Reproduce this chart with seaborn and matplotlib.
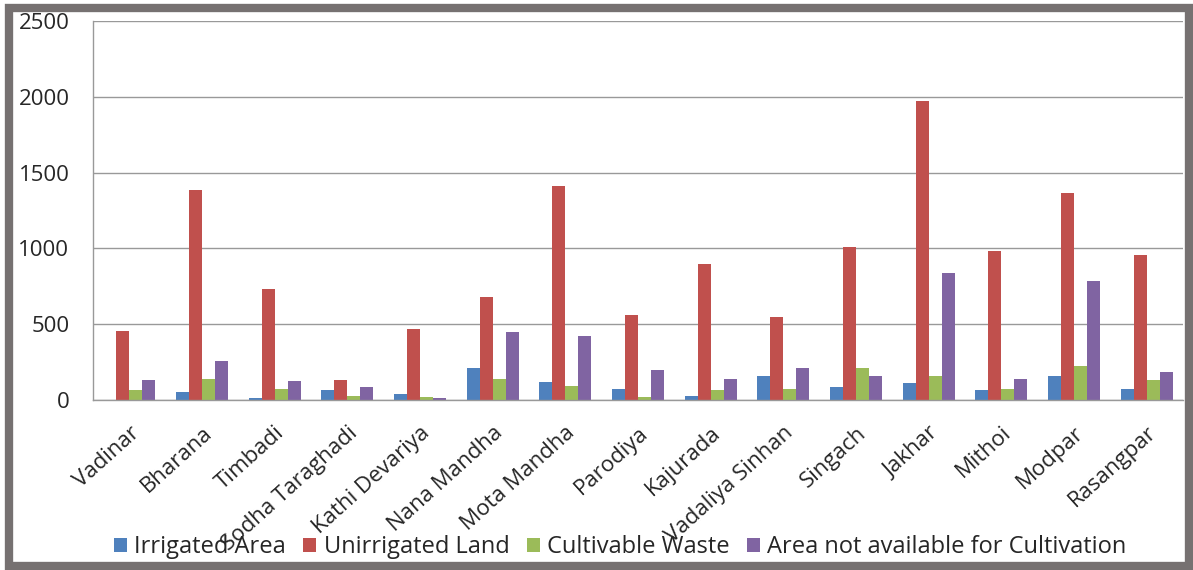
import numpy as np
import pandas as pd
import matplotlib
matplotlib.use("Agg")
import matplotlib.pyplot as plt
from matplotlib.patches import Rectangle
import seaborn as sns

# Villages and land use (hectares)
villages = ["Vadinar", "Bharana", "Timbadi", "Sodha Taraghadi", "Kathi Devariya",
            "Nana Mandha", "Mota Mandha", "Parodiya", "Kajurada", "Vadaliya Sinhan",
            "Singach", "Jakhar", "Mithoi", "Modpar", "Rasangpar"]
irrigated = [0, 53, 15, 67, 40, 209, 120, 73, 24, 160, 87, 113, 66, 159, 73]
unirrigated = [456, 1383, 730, 133, 468, 677, 1409, 562, 900, 549, 1008, 1969, 986, 1363, 959]
cultivable_waste = [67, 140, 73, 24, 20, 140, 93, 20, 67, 73, 209, 159, 73, 227, 132]
not_available = [133, 258, 127, 84, 13, 447, 424, 196, 140, 209, 160, 840, 139, 785, 187]

series_names = ["Irrigated Area", "Unirrigated Land", "Cultivable Waste",
                "Area not available for Cultivation"]
colors = ["#4F81BD", "#C0504D", "#9BBB59", "#8064A2"]

df = pd.DataFrame({
    "village": villages,
    series_names[0]: irrigated,
    series_names[1]: unirrigated,
    series_names[2]: cultivable_waste,
    series_names[3]: not_available,
})
long_df = df.melt(id_vars="village", var_name="type", value_name="area")

sns.set_theme(style="white")
plt.rcParams["font.family"] = ["Open Sans", "DejaVu Sans"]

fig = plt.figure(figsize=(11.93, 5.70), dpi=100)
ax = fig.add_axes([93 / 1193, 1 - 400 / 570, (1183 - 93) / 1193, (400 - 21) / 570])

sns.barplot(data=long_df, x="village", y="area", hue="type", order=villages,
            hue_order=series_names, palette=colors, saturation=1, width=0.72,
            linewidth=0, ax=ax)

leg = ax.get_legend()
if leg is not None:
    leg.remove()

ax.set_xlim(-0.5, len(villages) - 0.5)
ax.set_ylim(0, 2500)
ax.set_yticks(np.arange(0, 2501, 500))
ax.yaxis.grid(True, color="#999999", linewidth=1)
ax.set_axisbelow(True)
ax.set_xlabel("")
ax.set_ylabel("")

for side in ["top", "right"]:
    ax.spines[side].set_visible(False)
for side in ["left", "bottom"]:
    ax.spines[side].set_color("#999999")
    ax.spines[side].set_linewidth(1)

# category separators as tick marks below the axis
ax.set_xticks(np.arange(-0.5, len(villages)), minor=True)
ax.tick_params(axis="x", which="minor", length=5, color="#999999", width=1, direction="out")
ax.tick_params(axis="x", which="major", length=0, pad=16)
ax.tick_params(axis="y", length=5, color="#999999", width=1, direction="out", pad=12,
               labelsize=16)
ax.set_xticks(range(len(villages)))
ax.set_xticklabels(villages, rotation=42, ha="right", rotation_mode="anchor", fontsize=16)

handles, labels = ax.get_legend_handles_labels()
fig.legend(handles, labels, loc="center", bbox_to_anchor=(0.52, 0.04), ncol=4,
           frameon=False, fontsize=17, handlelength=0.55, handleheight=0.55,
           handletextpad=0.3, columnspacing=0.75, borderaxespad=0)

# dark frame around the whole chart
fig.patches.append(Rectangle((9 / 1193, 4 / 570), (1189 - 9) / 1193, (562 - 4) / 570,
                             transform=fig.transFigure, fill=False,
                             edgecolor="#767171", linewidth=6))

fig.savefig("out.png", dpi=100)
